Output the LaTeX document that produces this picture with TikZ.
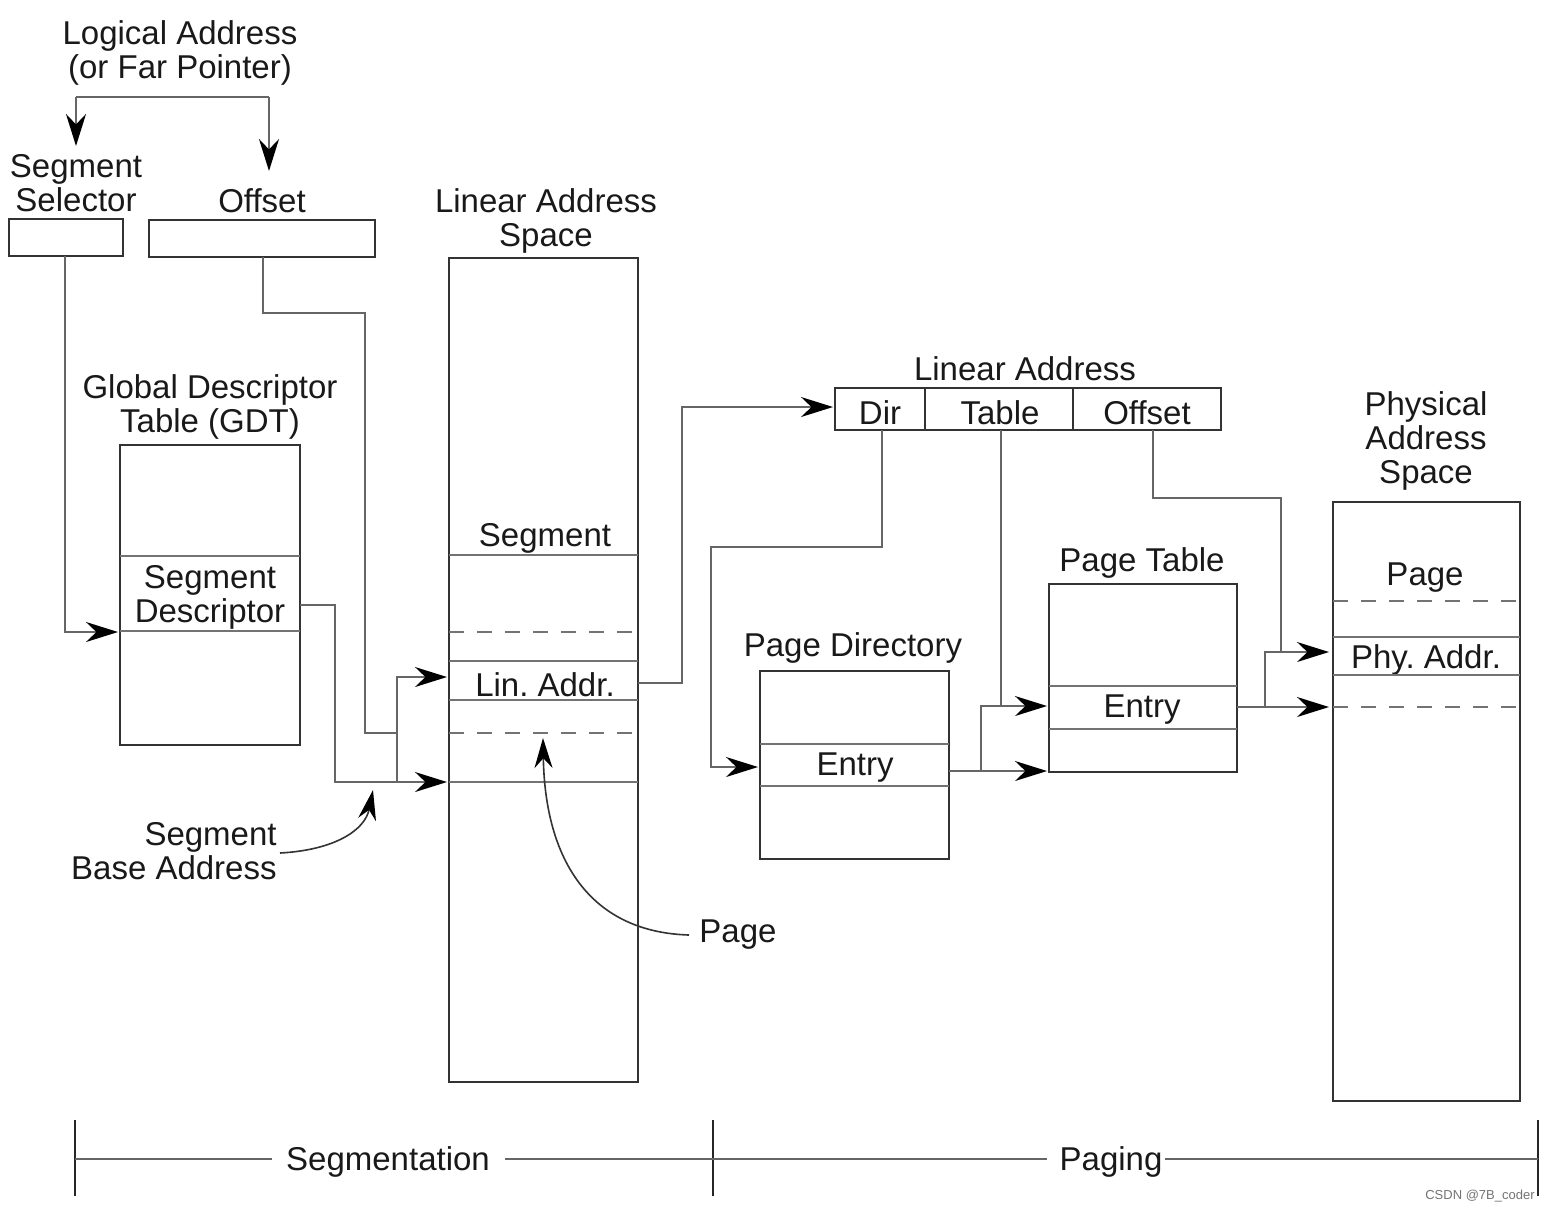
\documentclass[tikz,border=0pt]{standalone}
\usepackage{fontspec}
\setmainfont{Liberation Sans}
\usetikzlibrary{arrows.meta,fit}
\frenchspacing
\begin{document}
\begin{tikzpicture}[x=0.5pt,y=-0.5pt,
  lbl/.style={font=\fontsize{16.5}{17}\selectfont, text=black!90, align=center, inner sep=0pt, yshift=-1.5pt},
  box/.style={draw=black!80, line width=1.1pt, inner sep=0pt},
  inner/.style={draw=black!55, line width=1pt},
  dash line/.style={draw=black!55, line width=1pt, dash pattern=on 7.5pt off 6.5pt},
  conn/.style={draw=black!60, line width=0.9pt},
  arr/.style={conn, -{Stealth[length=16pt,width=10pt,black]}},
  carr/.style={draw=black!80, line width=0.8pt, -{Stealth[length=15pt,width=9pt,black]}},
  tick/.style={draw=black!85, line width=0.9pt},
  scale line/.style={draw=black!60, line width=1pt}]
\useasboundingbox (0,0) rectangle (1550,1212);

% ---------- Logical address ----------
\node[lbl] (logical) at (180,50) {Logical Address\\(or Far Pointer)};
\node[lbl] (selLbl) at (76,180) {Segment\\Selector};
\node[lbl] (offLbl) at (262,198) {Offset};
\coordinate (lgL) at (76,97);
\coordinate (lgR) at (269,97);
\coordinate (lgLt) at (76,146);
\coordinate (lgRt) at (269,171);
\draw[conn] (lgL) -- (lgR);
\draw[arr] (lgL) -- (lgLt);
\draw[arr] (lgR) -- (lgRt);
\node[box, fit={(9,219) (123,256)}] (selBox) {};
\node[box, fit={(149,220) (375,257)}] (offBox) {};

% ---------- GDT ----------
\node[lbl] (gdtLbl) at (210,404) {Global Descriptor\\Table (GDT)};
\node[box, fit={(120,445) (300,745)}] (gdt) {};
\draw[inner] (120,556) -- (300,556);
\draw[inner] (120,631) -- (300,631);
\node[lbl] (segDesc) at (210,594) {Segment\\Descriptor};

% ---------- Linear address space ----------
\node[lbl] (lasLbl) at (546,218) {Linear Address\\Space};
\node[box, fit={(449,258) (638,1082)}] (las) {};
\node[lbl] (segTxt) at (545,535) {Segment};
\draw[inner] (449,555) -- (638,555);
\draw[dash line] (449,632) -- (638,632);
\draw[inner] (449,661) -- (638,661);
\node[lbl] (linAddr) at (545,682) {Lin. Addr.};
\draw[inner] (449,700) -- (638,700);
\draw[dash line] (449,733) -- (638,733);
\draw[inner] (449,782) -- (638,782);

% ---------- segmentation connectors ----------
\coordinate (selOut) at (65,256);
\coordinate (gdtIn) at (118,632);
\draw[arr] (selOut) -- (65,632) -- (gdtIn);
\coordinate (offOut) at (263,257);
\coordinate (jn) at (397,733);
\draw[conn] (offOut) -- (263,313) -- (365,313) -- (365,733) -- (jn);
\coordinate (descOut) at (300,605);
\coordinate (baseIn) at (447,782);
\coordinate (linIn) at (447,677);
\draw[arr] (descOut) -- (335,605) -- (335,782) -- (baseIn);
\draw[arr] (397,782) -- (397,677) -- (linIn);

% Segment base address label
\node[lbl, align=right, anchor=east] (sba) at (277,848) {Segment\\Base Address};
\coordinate (sbaTip) at (373,790);
\draw[carr] (sba.east) ++(3,2) .. controls (335,850) and (365,830) .. (sbaTip);

% Page label
\node[lbl, anchor=west] (pageLbl) at (699,932) {Page};
\coordinate (pageTip) at (543,738);
\draw[carr] (pageLbl.west) ++(-10,0) .. controls (590,932) and (545,860) .. (pageTip);

% ---------- Linear address (Dir/Table/Offset) ----------
\node[lbl] (laLbl) at (1025,366) {Linear Address};
\node[box, fit={(835,388) (1221,430)}] (laBox) {};
\draw[box] (925,388) -- (925,430);
\draw[box] (1073,388) -- (1073,430);
\node[lbl] (dirTxt) at (880,410) {Dir};
\node[lbl] (tabTxt) at (1000,410) {Table};
\node[lbl] (offTxt) at (1147,410) {Offset};
\coordinate (linOut) at (638,683);
\coordinate (laIn) at (833,407);
\draw[arr] (linOut) -- (682,683) -- (682,407) -- (laIn);

% ---------- Page directory ----------
\node[lbl] (pdLbl) at (853,645) {Page Directory};
\node[box, fit={(760,671) (949,859)}] (pd) {};
\draw[inner] (760,744) -- (949,744);
\draw[inner] (760,786) -- (949,786);
\node[lbl] (pdEntry) at (855,765) {Entry};
\coordinate (dirOut) at (882,430);
\coordinate (pdIn) at (758,767);
\draw[arr] (dirOut) -- (882,547) -- (711,547) -- (711,767) -- (pdIn);

% ---------- Page table ----------
\node[lbl] (ptLbl) at (1142,560) {Page Table};
\node[box, fit={(1049,584) (1237,772)}] (pt) {};
\draw[inner] (1049,686) -- (1237,686);
\draw[inner] (1049,729) -- (1237,729);
\node[lbl] (ptEntry) at (1142,707) {Entry};
\coordinate (tabOut) at (1001,430);
\coordinate (ptIn) at (1047,706);
\coordinate (ptBase) at (1047,771);
\draw[conn] (tabOut) -- (1001,706);
\draw[arr] (981,771) -- (981,706) -- (ptIn);
\draw[arr] (949,771) -- (ptBase);

% ---------- Physical address space ----------
\node[lbl] (phLbl) at (1426,438) {Physical\\Address\\Space};
\node[box, fit={(1333,502) (1520,1101)}] (phys) {};
\node[lbl] (phPage) at (1425,575) {Page};
\draw[dash line] (1333,601) -- (1520,601);
\draw[inner] (1333,637) -- (1520,637);
\node[lbl] (phAddr) at (1426,657) {Phy. Addr.};
\draw[inner] (1333,675) -- (1520,675);
\draw[dash line] (1333,707) -- (1520,707);
\coordinate (ptOut) at (1237,707);
\coordinate (phBase) at (1329,707);
\coordinate (phIn) at (1329,652);
\draw[arr] (ptOut) -- (phBase);
\draw[arr] (1265,707) -- (1265,652) -- (phIn);
\coordinate (offOut2) at (1153,430);
\draw[conn] (offOut2) -- (1153,498) -- (1281,498) -- (1281,652);

% ---------- bottom scale ----------
\draw[tick] (75,1120) -- (75,1196);
\draw[tick] (713,1120) -- (713,1196);
\draw[tick] (1538,1120) -- (1538,1196);
\node[lbl] (segm) at (388,1159) {Segmentation};
\node[lbl] (pag) at (1111,1159) {Paging};
\draw[scale line] (75,1159) -- (272,1159);
\draw[scale line] (505,1159) -- (1047,1159);
\draw[scale line] (1165,1159) -- (1538,1159);
\node[font=\fontsize{6.5}{7}\selectfont, text=black!55, anchor=east, inner sep=0pt] (wm) at (1535,1196) {CSDN @7B\_coder};
\end{tikzpicture}
\end{document}
